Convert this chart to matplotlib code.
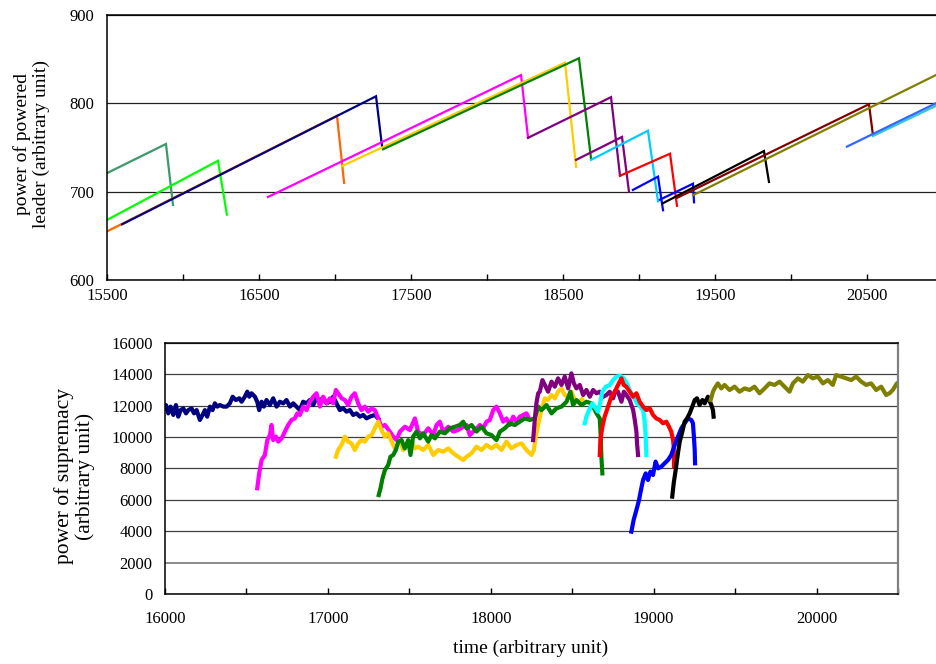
import matplotlib

matplotlib.use('Agg')
import matplotlib.pyplot as plt
import numpy as np

plt.rcParams['font.family'] = ['Liberation Serif', 'DejaVu Serif']

# ---- top panel: power of powered leader (start, peak, end of each leader) ----
lead_seagreen = [(15500, 721), (15888, 754), (15934, 685)]
lead_lime = [(15500, 668), (16230, 735), (16289, 674)]
lead_orange = [(15500, 655), (17013, 786), (17060, 710)]
lead_navy = [(15599, 663), (17270, 808), (17309, 752)]
lead_magenta = [(16559, 694), (18224, 832), (18270, 761)]
lead_gold = [(17046, 729), (18513, 846), (18586, 728)]
lead_green = [(17316, 748), (18605, 851), (18684, 738)]
lead_purple_a = [(18270, 761), (18816, 807), (18875, 718)]
lead_purple_b = [(18586, 736), (18888, 762), (18934, 700)]
lead_cyan = [(18684, 736), (19059, 769), (19125, 689)]
lead_red = [(18875, 718), (19204, 743), (19250, 684)]
lead_blue_a = [(18960, 702), (19125, 717), (19158, 679)]
lead_blue_b = [(19138, 691), (19355, 709), (19362, 688)]
lead_black = [(19158, 687), (19822, 746), (19855, 711)]
lead_darkred = [(19250, 693), (20513, 799), (20539, 764)]
lead_olive = [(19355, 696), (21000, 836)]
lead_blue2 = [(20368, 751), (21000, 804)]
lead_teal = [(20539, 763), (21000, 801)]

# ---- bottom panel: power of supremacy ----
sup_navy = [(16000, 11800), (16006, 12030), (16020, 11500), (16034, 11930), (16051, 11400), (16067, 12030),
            (16081, 11290), (16096, 11710), (16112, 11820), (16129, 11500), (16143, 11710), (16163, 11820),
            (16178, 11500), (16194, 11710), (16214, 11080), (16231, 11400), (16245, 11710), (16259, 11290),
            (16276, 11930), (16292, 11710), (16306, 12140), (16321, 11930), (16337, 12030), (16358, 11930),
            (16378, 11930), (16398, 12140), (16415, 12560), (16435, 12350), (16456, 12460), (16470, 12240),
            (16490, 12560), (16505, 12880), (16517, 12560), (16531, 12780), (16552, 12560), (16566, 12240),
            (16578, 11710), (16593, 12240), (16607, 11930), (16623, 12350), (16644, 12030), (16664, 12460),
            (16685, 11930), (16705, 12240), (16726, 12140), (16746, 12350), (16767, 11930), (16787, 12140),
            (16807, 11930), (16828, 11710), (16848, 12240), (16869, 12140), (16889, 12350), (16910, 12030),
            (16930, 12460), (16951, 12350), (16971, 12460), (16992, 12140), (17012, 12240), (17032, 12560),
            (17053, 12140), (17073, 11710), (17094, 11820), (17114, 11610), (17135, 11710), (17155, 11400),
            (17176, 11500), (17196, 11290), (17217, 11400), (17237, 11180), (17257, 11290), (17288, 11400),
            (17308, 11180)]
sup_magenta = [(16566, 6730), (16578, 7680), (16593, 8530), (16613, 8850), (16628, 9800), (16644, 10120),
               (16654, 10760), (16664, 9800), (16681, 10020), (16695, 9700), (16716, 9910), (16736, 10340),
               (16756, 10760), (16777, 11080), (16797, 11180), (16812, 11500), (16828, 11400), (16848, 11930),
               (16869, 11710), (16889, 12240), (16910, 12560), (16930, 12780), (16951, 11930), (16971, 12560),
               (16992, 12140), (17012, 12460), (17032, 12140), (17049, 12990), (17063, 12780), (17084, 12460),
               (17104, 12350), (17124, 12030), (17145, 12560), (17165, 12780), (17186, 12140), (17206, 11710),
               (17227, 11930), (17247, 11610), (17268, 11820), (17288, 11710), (17309, 11180), (17329, 10650),
               (17350, 10760), (17380, 10340), (17401, 10020), (17421, 9800), (17442, 10340), (17473, 10650),
               (17503, 10440), (17534, 11180), (17554, 10340), (17585, 10120), (17616, 10550), (17647, 10120),
               (17667, 10760), (17687, 10970), (17708, 10340), (17739, 10650), (17769, 10340), (17800, 10440),
               (17831, 10650), (17851, 10760), (17871, 10120), (17902, 10440), (17933, 10760), (17953, 10550),
               (17974, 10970), (17994, 11080), (18015, 11710), (18035, 11930), (18056, 11500), (18076, 10970),
               (18096, 11180), (18117, 10760), (18137, 11290), (18158, 10970), (18178, 11290), (18199, 11400),
               (18219, 11500), (18229, 11290)]
sup_gold = [(17049, 8740), (17063, 9170), (17084, 9490), (17104, 10020), (17124, 9700), (17145, 9590),
            (17165, 9170), (17186, 9590), (17206, 9800), (17227, 9700), (17247, 10020), (17268, 10120),
            (17288, 10550), (17309, 10970), (17329, 10440), (17350, 10020), (17370, 10230), (17391, 9700),
            (17411, 9270), (17432, 9590), (17442, 9800), (17462, 9170), (17483, 9490), (17514, 9700),
            (17534, 9270), (17554, 9380), (17585, 9170), (17616, 9490), (17647, 8850), (17677, 9170),
            (17708, 9060), (17739, 9270), (17769, 8960), (17800, 8740), (17831, 8530), (17851, 8740),
            (17882, 8960), (17912, 9380), (17943, 9170), (17974, 9490), (18004, 9270), (18035, 9490),
            (18066, 9170), (18096, 9700), (18127, 9270), (18158, 9490), (18188, 9590), (18219, 9170),
            (18250, 8850), (18264, 9170), (18280, 10230), (18297, 11080), (18311, 11710), (18332, 12460),
            (18352, 12350), (18373, 12670), (18393, 12460), (18413, 12880), (18434, 13090), (18454, 12670),
            (18475, 12560), (18495, 12880), (18516, 12350), (18536, 12240), (18560, 12400)]
sup_green = [(17312, 6300), (17323, 6730), (17335, 7360), (17350, 7890), (17370, 8210), (17384, 8740),
             (17401, 8850), (17417, 9170), (17432, 9700), (17452, 9800), (17472, 9270), (17493, 9800),
             (17507, 8850), (17523, 10020), (17544, 10340), (17565, 9910), (17585, 10230), (17616, 9700),
             (17636, 10120), (17657, 9910), (17687, 10340), (17718, 10230), (17749, 10550), (17779, 10650),
             (17810, 10760), (17831, 10970), (17851, 10550), (17882, 10760), (17912, 10340), (17943, 10650),
             (17974, 10230), (18004, 10120), (18035, 9800), (18056, 10340), (18086, 10550), (18117, 10870),
             (18147, 10760), (18178, 10970), (18209, 11180), (18240, 11080), (18270, 11180), (18291, 11930),
             (18311, 11710), (18342, 12030), (18373, 11500), (18403, 11820), (18434, 11930), (18465, 12240),
             (18489, 12880), (18505, 12030), (18526, 12350), (18557, 12030), (18587, 12240), (18618, 12140),
             (18649, 11500), (18669, 11180), (18675, 10020), (18679, 8740), (18685, 7680)]
sup_purple = [(18260, 9800), (18270, 11080), (18280, 12140), (18291, 12780), (18301, 12880), (18317, 13620),
              (18332, 13310), (18352, 12880), (18373, 13520), (18393, 13200), (18413, 13730), (18434, 13310),
              (18454, 13840), (18475, 13090), (18495, 14050), (18510, 13410), (18526, 13090), (18546, 13310),
              (18567, 12670), (18587, 12990), (18608, 12560), (18628, 12990), (18649, 12780), (18669, 12880),
              (18690, 12560), (18710, 12670), (18730, 12880), (18751, 12460), (18766, 12990), (18781, 12880),
              (18802, 12240), (18817, 12880), (18833, 12670), (18853, 12350), (18874, 11710), (18884, 11080),
              (18894, 10340), (18898, 9590), (18904, 8850)]
sup_cyan = [(18577, 10870), (18587, 11290), (18603, 11710), (18624, 12140), (18644, 11820), (18659, 11610),
            (18673, 12240), (18685, 12880), (18706, 13200), (18730, 13310), (18751, 13620), (18771, 13840),
            (18796, 13880), (18816, 13730), (18836, 13410), (18857, 12880), (18877, 12560), (18898, 12140),
            (18918, 11930), (18935, 11710), (18945, 10970), (18951, 10020), (18955, 8850)]
sup_red = [(18669, 8850), (18673, 9800), (18685, 10650), (18699, 11290), (18720, 11930), (18740, 12560),
           (18761, 12880), (18781, 13310), (18802, 13730), (18816, 13310), (18832, 13200), (18853, 12880),
           (18873, 12560), (18894, 12780), (18914, 12240), (18935, 11930), (18955, 11710), (18976, 11820),
           (18996, 11400), (19016, 11180), (19037, 11080), (19057, 10870), (19078, 10970), (19094, 10650),
           (19108, 10340), (19119, 9800), (19123, 9380), (19125, 8100)]
sup_blue = [(18863, 3970), (18877, 4710), (18894, 5350), (18910, 5980), (18924, 6730), (18935, 7260),
            (18951, 7680), (18965, 7260), (18980, 7790), (18996, 7580), (19012, 8430), (19027, 8000),
            (19047, 8110), (19067, 8320), (19088, 8530), (19108, 8850), (19129, 9490), (19149, 10020),
            (19170, 10550), (19190, 10870), (19211, 11180), (19231, 11080), (19241, 10870), (19247, 10020),
            (19252, 9170), (19254, 8320)]
sup_black = [(19114, 6200), (19123, 7050), (19135, 7890), (19149, 8960), (19160, 9700), (19176, 10340),
             (19190, 10970), (19205, 11180), (19221, 11500), (19237, 11930), (19252, 12350), (19266, 12460),
             (19282, 12030), (19299, 12350), (19313, 12140), (19333, 12560), (19354, 12030), (19364, 11710),
             (19368, 11290)]
sup_olive = [(19350, 12350), (19364, 12880), (19374, 13090), (19394, 13410), (19415, 13090), (19435, 13310),
             (19466, 12990), (19497, 13200), (19527, 12880), (19558, 13090), (19589, 12990), (19619, 13200),
             (19650, 12780), (19681, 13090), (19711, 13410), (19742, 13310), (19773, 13520), (19803, 13200),
             (19834, 12880), (19855, 13410), (19885, 13730), (19916, 13520), (19947, 13940), (19977, 13730),
             (20008, 13840), (20039, 13410), (20069, 13620), (20100, 13310), (20120, 13940), (20151, 13840),
             (20182, 13730), (20213, 13620), (20243, 13840), (20274, 13520), (20305, 13310), (20335, 13410),
             (20366, 12990), (20397, 13200), (20427, 12670), (20448, 12780), (20468, 12990), (20493, 13410),
             (20500, 13450)]

top_series = [
    (lead_seagreen, '#3a9a6a'), (lead_lime, '#00ff00'), (lead_orange, '#ff6600'), (lead_navy, '#000080'),
    (lead_magenta, '#ff00ff'), (lead_gold, '#ffcc00'), (lead_green, '#008000'), (lead_purple_a, '#800080'),
    (lead_purple_b, '#800080'), (lead_cyan, '#00ccff'), (lead_red, '#ff0000'), (lead_blue_a, '#0000ff'),
    (lead_blue_b, '#0000ff'), (lead_black, '#000000'), (lead_darkred, '#800000'), (lead_olive, '#808000'),
    (lead_teal, '#33cccc'), (lead_blue2, '#3366ff'),
]
bottom_series = [
    (sup_navy, '#000080'), (sup_magenta, '#ff00ff'), (sup_gold, '#ffcc00'), (sup_green, '#008000'),
    (sup_purple, '#800080'), (sup_cyan, '#00ffff'), (sup_red, '#ff0000'), (sup_blue, '#0000ff'),
    (sup_black, '#000000'), (sup_olive, '#808000'),
]

fig = plt.figure(figsize=(9.36, 6.64), dpi=100)

# top axes deliberately runs a little past the right edge of the picture
ax1 = fig.add_axes([0.1143, 0.5783, 0.8932, 0.3991])
for pts, c in top_series:
    t, p = np.array(pts).T
    ax1.plot(t, p, color=c, lw=1.6, solid_joinstyle='miter')
ax1.set_xlim(15500, 21000)
ax1.set_ylim(600, 900)
ax1.set_xticks(np.arange(15500, 21001, 1000))
ax1.set_xticks(np.arange(16000, 21001, 1000), minor=True)
ax1.set_yticks(np.arange(600, 901, 100))
ax1.grid(axis='y', color='#202020', lw=0.9)
ax1.tick_params(axis='x', which='both', direction='in', length=4, width=1, labelsize=12, pad=6)
ax1.tick_params(axis='y', length=0, labelsize=12, pad=9)
for s in ax1.spines.values():
    s.set_linewidth(1.1)
fig.text(0.034, 0.783, 'power of powered\nleader (arbitrary unit)', rotation=90,
         ha='center', va='center', fontsize=14, linespacing=1.15)

ax2 = fig.add_axes([0.1763, 0.1054, 0.7831, 0.3785])
for pts, c in bottom_series:
    t, v = np.array(pts).T
    ax2.plot(t, v, color=c, lw=3.0)
ax2.set_xlim(16000, 20500)
ax2.set_ylim(0, 16000)
ax2.set_xticks(np.arange(16000, 20001, 1000))
ax2.set_xticks(np.arange(16500, 20501, 1000), minor=True)
ax2.set_yticks(np.arange(0, 16001, 2000))
ax2.grid(axis='y', color='#404040', lw=0.9)
ax2.get_ygridlines()[1].set_color('#8c8c8c')
ax2.get_ygridlines()[1].set_linewidth(1.4)
ax2.tick_params(axis='x', which='both', direction='in', length=4, width=1, labelsize=12, pad=12)
ax2.tick_params(axis='y', length=0, labelsize=12, pad=9)
for s in ax2.spines.values():
    s.set_linewidth(1.1)
ax2.spines['right'].set_color('#808080')
ax2.spines['right'].set_linewidth(1.6)
fig.text(0.080, 0.283, 'power of supremacy\n(arbitrary unit)', rotation=90,
         ha='center', va='center', fontsize=15.5, linespacing=1.1)
fig.text(0.567, 0.024, 'time (arbitrary unit)', ha='center', va='center', fontsize=14)

fig.savefig('out.png', dpi=100)
